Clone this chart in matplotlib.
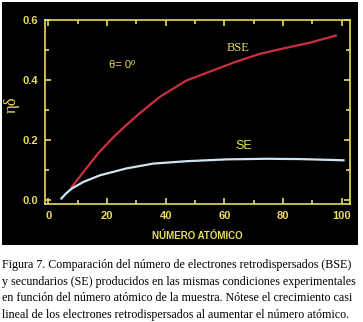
import matplotlib.pyplot as plt
import matplotlib.patches as mpatches
from matplotlib.ticker import MultipleLocator

# Datos
z_bse = [8, 12, 17, 22, 26, 31, 38, 44, 47, 55, 64, 72, 80, 89, 98]
eta_bse = [0.044, 0.094, 0.156, 0.208, 0.245, 0.288, 0.344, 0.380, 0.398, 0.428, 0.461, 0.487, 0.505, 0.524, 0.548]

z_se = [4.5, 6, 8, 12, 17.6, 26.7, 35.8, 47.2, 60.8, 74.4, 85.8, 100.6]
delta_se = [0.006, 0.022, 0.039, 0.061, 0.083, 0.106, 0.122, 0.130, 0.136, 0.138, 0.137, 0.133]

x_ticks = [0, 20, 40, 60, 80, 100]
y_ticks = [0.0, 0.2, 0.4, 0.6]

caption = [
    "Figura 7. Comparación del número de electrones retrodispersados (BSE)",
    "y secundarios (SE) producidos en las mismas condiciones experimentales",
    "en función del número atómico de la muestra. Nótese el crecimiento casi",
    "lineal de los electrones retrodispersados al aumentar el número atómico.",
]

amarillo = '#e8dc5c'

fig = plt.figure(figsize=(3.63, 3.22), dpi=100)
fig.patch.set_facecolor('white')
fig.patches.append(mpatches.Rectangle((0.0055, 0.239), 0.98, 0.755, transform=fig.transFigure,
                                      facecolor='black', edgecolor='none', zorder=-5))

ax = fig.add_axes([0.124, 0.366, 0.840, 0.572])
ax.set_facecolor('black')
ax.plot(z_bse, eta_bse, color='#cc2f3f', lw=1.6)
ax.plot(z_se, delta_se, color='#cfe3f2', lw=1.6)

ax.set_xlim(-1.1, 102.8)
ax.set_ylim(-0.013, 0.6)
ax.set_xticks(x_ticks)
ax.set_yticks(y_ticks)
ax.xaxis.set_minor_locator(MultipleLocator(10))
ax.yaxis.set_minor_locator(MultipleLocator(0.1))
ax.set_yticklabels([f"{v:.1f}" for v in y_ticks])

for s in ax.spines.values():
    s.set_color(amarillo)
    s.set_linewidth(1.2)
ax.tick_params(which='both', direction='in', colors=amarillo, top=True, right=True, width=1.2)
ax.tick_params(which='major', length=4, pad=5)
ax.tick_params(which='minor', length=3)
for lab in ax.get_xticklabels() + ax.get_yticklabels():
    lab.set_fontfamily('Liberation Sans')
    lab.set_fontweight('bold')
    lab.set_fontsize(8)
    lab.set_color(amarillo)

ax.set_xlabel("NÚMERO ATÓMICO", color=amarillo, fontsize=7, fontweight='bold',
              fontfamily='Liberation Sans', labelpad=7)
fig.text(0.033, 0.675, "ηδ", rotation=90, color=amarillo, fontsize=12,
         fontfamily='Liberation Serif', ha='center', va='center')

ax.text(64.8, 0.506, "BSE", color=amarillo, fontsize=9, fontfamily='Liberation Serif',
        ha='center', va='center')
ax.text(66.5, 0.181, "SE", color=amarillo, fontsize=9, fontfamily='Liberation Sans',
        ha='center', va='center')
ax.text(25, 0.45, "θ= 0º", color=amarillo, fontsize=8, fontfamily='Liberation Sans',
        ha='center', va='center')

for i, linea in enumerate(caption):
    fig.text(0.006, 1 - (265 + i * 16.7) / 322, linea, fontsize=8.65,
             fontfamily='Liberation Serif', color='black', ha='left', va='center')

fig.savefig('out.png', dpi=100)
